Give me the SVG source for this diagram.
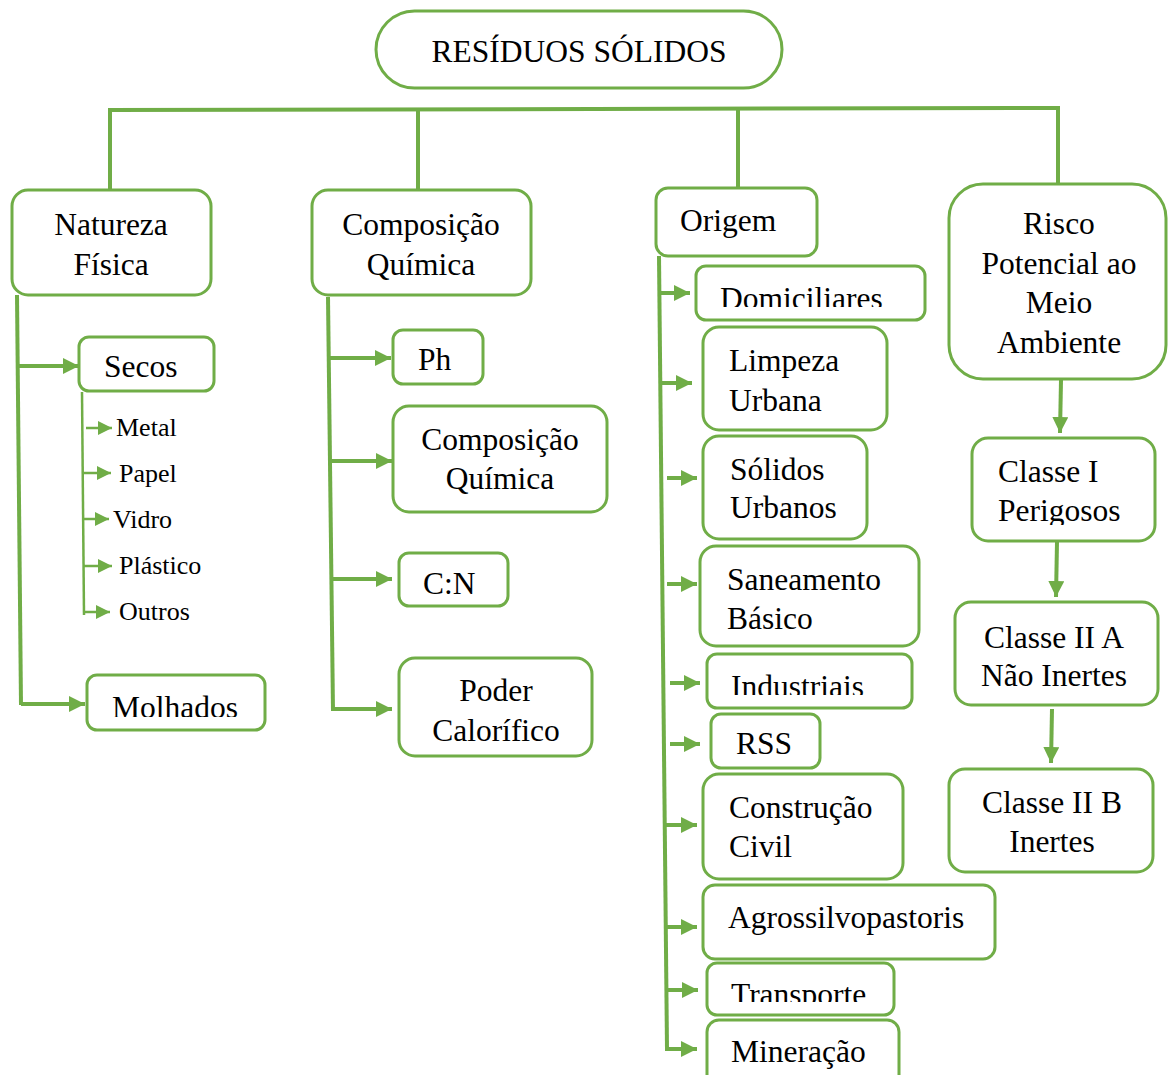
<svg xmlns="http://www.w3.org/2000/svg" width="1168" height="1075" viewBox="0 0 1168 1075">
<style>
.box{fill:#fff;stroke:#70AD47;stroke-width:3}
.t{font-family:"Liberation Serif","Times New Roman",serif;font-size:31.5px;fill:#000}
.s{font-family:"Liberation Serif","Times New Roman",serif;font-size:26px;fill:#000}
.c{text-anchor:middle}
.ln{fill:none;stroke:#70AD47;stroke-width:4}
.ar{fill:none;stroke:#70AD47;stroke-width:4;marker-end:url(#ah)}
.sa{fill:none;stroke:#70AD47;stroke-width:2.5;marker-end:url(#sh)}
</style>
<defs>
<marker id="ah" markerUnits="userSpaceOnUse" markerWidth="16" markerHeight="16" refX="16" refY="8" orient="auto"><path d="M0,0 L16,8 L0,16 z" fill="#70AD47"/></marker>
<marker id="sh" markerUnits="userSpaceOnUse" markerWidth="14" markerHeight="14" refX="14" refY="7" orient="auto"><path d="M0,0 L14,7 L0,14 z" fill="#70AD47"/></marker>
<clipPath id="cDom"><rect x="690" y="260" width="240" height="47"/></clipPath>
<clipPath id="cMol"><rect x="80" y="670" width="190" height="47"/></clipPath>
<clipPath id="cCN"><rect x="395" y="548" width="118" height="46"/></clipPath>
<clipPath id="cInd"><rect x="700" y="650" width="215" height="45"/></clipPath>
<clipPath id="cTra"><rect x="700" y="958" width="200" height="44"/></clipPath>
<clipPath id="cPer"><rect x="968" y="434" width="190" height="91"/></clipPath>
</defs>

<g id="connectors">
<path class="ln" d="M110,190 V110 L1058,108 V185"/>
<path class="ln" d="M418,109 V190"/>
<path class="ln" d="M738,109 V188"/>
<!-- Natureza -->
<path class="ln" d="M17,295 L21,705"/>
<path class="ar" d="M18,366 H79"/>
<path class="ar" d="M21,704 H85"/>
<path d="M82,392 L84,615" fill="none" stroke="#70AD47" stroke-width="2.5"/>
<path class="sa" d="M86,428 H112"/>
<path class="sa" d="M83,473 H111"/>
<path class="sa" d="M83,519 H109"/>
<path class="sa" d="M84,566 H112"/>
<path class="sa" d="M83,612 H110"/>
<!-- Composição -->
<path class="ln" d="M328,297 L333,711"/>
<path class="ar" d="M329,358 H391"/>
<path class="ar" d="M330,461 H392"/>
<path class="ar" d="M331,579 H392"/>
<path class="ar" d="M333,709 H392"/>
<!-- Origem -->
<path class="ln" d="M659,256 L667,1049"/>
<path class="ar" d="M659,293 H690"/>
<path class="ar" d="M660,383 H692"/>
<path class="ar" d="M667,478 H697"/>
<path class="ar" d="M667,584 H697"/>
<path class="ar" d="M670,683 H700"/>
<path class="ar" d="M670,744 H700"/>
<path class="ar" d="M664,825 H697"/>
<path class="ar" d="M666,927 H697"/>
<path class="ar" d="M667,990 H698"/>
<path class="ar" d="M665,1049 H697"/>
<!-- Risco -->
<path class="ar" d="M1061,380 L1060,433"/>
<path class="ar" d="M1057,542 L1056,597"/>
<path class="ar" d="M1052,709 L1051,763"/>
</g>

<g id="residuos">
<rect class="box" x="376" y="11" width="406" height="77" rx="38.5"/>
<text class="t c" x="579" y="62">RESÍDUOS SÓLIDOS</text>
</g>

<g id="natureza">
<rect class="box" x="12" y="190" width="199" height="105" rx="16"/>
<text class="t c" x="111" y="235">Natureza</text>
<text class="t c" x="111" y="275">Física</text>
</g>
<g id="secos">
<rect class="box" x="79" y="337" width="135" height="54" rx="10"/>
<text class="t" x="104" y="377">Secos</text>
</g>
<g id="metal"><text class="s" x="116" y="436">Metal</text></g>
<g id="papel"><text class="s" x="119" y="482">Papel</text></g>
<g id="vidro"><text class="s" x="113" y="528">Vidro</text></g>
<g id="plastico"><text class="s" x="119" y="574">Plástico</text></g>
<g id="outros"><text class="s" x="119" y="620">Outros</text></g>
<g id="molhados">
<rect class="box" x="87" y="675" width="178" height="55" rx="10"/>
<text class="t" x="112" y="718" clip-path="url(#cMol)">Molhados</text>
</g>

<g id="composicao">
<rect class="box" x="312" y="190" width="219" height="105" rx="16"/>
<text class="t c" x="421" y="235">Composição</text>
<text class="t c" x="421" y="275">Química</text>
</g>
<g id="ph">
<rect class="box" x="393" y="330" width="90" height="54" rx="10"/>
<text class="t" x="418" y="370">Ph</text>
</g>
<g id="composicao2">
<rect class="box" x="393" y="406" width="214" height="106" rx="16"/>
<text class="t c" x="500" y="450">Composição</text>
<text class="t c" x="500" y="489">Química</text>
</g>
<g id="cn">
<rect class="box" x="399" y="553" width="109" height="53" rx="10"/>
<text class="t" x="423" y="594" clip-path="url(#cCN)">C:N</text>
</g>
<g id="poder">
<rect class="box" x="399" y="658" width="193" height="98" rx="16"/>
<text class="t c" x="496" y="701">Poder</text>
<text class="t c" x="496" y="741">Calorífico</text>
</g>

<g id="origem">
<rect class="box" x="656" y="188" width="161" height="68" rx="12"/>
<text class="t" x="680" y="231">Origem</text>
</g>
<g id="domiciliares">
<rect class="box" x="696" y="266" width="229" height="54" rx="10"/>
<text class="t" x="720" y="309" clip-path="url(#cDom)">Domiciliares</text>
</g>
<g id="limpeza">
<rect class="box" x="703" y="327" width="184" height="103" rx="16"/>
<text class="t" x="729" y="371">Limpeza</text>
<text class="t" x="729" y="411">Urbana</text>
</g>
<g id="solidos">
<rect class="box" x="703" y="436" width="164" height="103" rx="16"/>
<text class="t" x="730" y="480">Sólidos</text>
<text class="t" x="730" y="518">Urbanos</text>
</g>
<g id="saneamento">
<rect class="box" x="700" y="546" width="219" height="100" rx="16"/>
<text class="t" x="727" y="590">Saneamento</text>
<text class="t" x="727" y="629">Básico</text>
</g>
<g id="industriais">
<rect class="box" x="707" y="654" width="205" height="54" rx="10"/>
<text class="t" x="731" y="697" clip-path="url(#cInd)">Industriais</text>
</g>
<g id="rss">
<rect class="box" x="711" y="714" width="109" height="54" rx="10"/>
<text class="t" x="736" y="754">RSS</text>
</g>
<g id="construcao">
<rect class="box" x="703" y="774" width="200" height="105" rx="16"/>
<text class="t" x="729" y="818">Construção</text>
<text class="t" x="729" y="857">Civil</text>
</g>
<g id="agro">
<rect class="box" x="703" y="885" width="292" height="74" rx="12"/>
<text class="t" x="728" y="928">Agrossilvopastoris</text>
</g>
<g id="transporte">
<rect class="box" x="707" y="963" width="187" height="52" rx="10"/>
<text class="t" x="731" y="1005" clip-path="url(#cTra)">Transporte</text>
</g>
<g id="mineracao">
<rect class="box" x="707" y="1020" width="192" height="80" rx="12"/>
<text class="t" x="731" y="1062">Mineração</text>
</g>

<g id="risco">
<rect class="box" x="949" y="184" width="217" height="195" rx="34"/>
<text class="t c" x="1059" y="234">Risco</text>
<text class="t c" x="1059" y="274">Potencial ao</text>
<text class="t c" x="1059" y="313">Meio</text>
<text class="t c" x="1059" y="353">Ambiente</text>
</g>
<g id="classe1">
<rect class="box" x="972" y="438" width="183" height="103" rx="16"/>
<text class="t" x="998" y="482">Classe I</text>
<text class="t" x="998" y="521" clip-path="url(#cPer)">Perigosos</text>
</g>
<g id="classe2a">
<rect class="box" x="955" y="602" width="203" height="103" rx="16"/>
<text class="t c" x="1054" y="648">Classe II A</text>
<text class="t c" x="1054" y="686">Não Inertes</text>
</g>
<g id="classe2b">
<rect class="box" x="949" y="769" width="204" height="103" rx="16"/>
<text class="t c" x="1052" y="813">Classe II B</text>
<text class="t c" x="1052" y="852">Inertes</text>
</g>
</svg>
